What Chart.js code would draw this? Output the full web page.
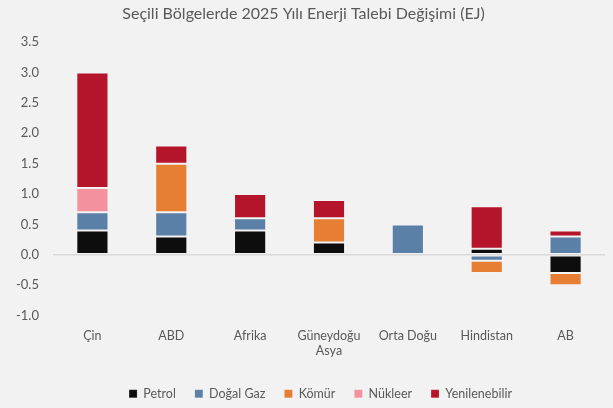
<!DOCTYPE html>
<html>
<head>
<meta charset="utf-8">
<script src="https://cdn.jsdelivr.net/npm/chart.js@4/dist/chart.umd.min.js"></script>
<style>
  html, body { margin: 0; padding: 0; background: #f2f2f2; }
  #wrap { width: 613px; height: 408px; }
</style>
</head>
<body>
<div id="wrap"><canvas id="chart" width="613" height="408"></canvas></div>
<script>
// bölgeler
const regions = ["Çin", "ABD", "Afrika", ["Güneydoğu", "Asya"], "Orta Doğu", "Hindistan", "AB"];

// EJ değişimleri
const petrol        = [0.4, 0.3, 0.4, 0.2, 0.0,  0.1, -0.3];
const dogalGaz      = [0.3, 0.4, 0.2, 0.0, 0.5, -0.1,  0.3];
const komur         = [0.0, 0.8, 0.0, 0.4, 0.0, -0.2, -0.2];
const nukleer       = [0.4, 0.0, 0.0, 0.0, 0.0,  0.0,  0.0];
const yenilenebilir = [1.9, 0.3, 0.4, 0.3, 0.0,  0.7,  0.1];

const textColor = '#595959';
const font = "Lato, 'Open Sans', sans-serif";

function ds(label, data, color) {
  return {
    label, data,
    backgroundColor: color,
    borderColor: 'rgba(255,255,255,0.15)',
    borderWidth: 1,
    borderSkipped: false,
    barPercentage: 0.8,
    categoryPercentage: 0.51,
    stack: 's'
  };
}

// lejantı biraz sağa/aşağı kaydır (orijinaldeki gibi ortalı görünsün)
const legendShift = {
  id: 'legendShift',
  afterLayout(chart) {
    const lg = chart.legend;
    lg.left += 17; lg.right += 17;
    lg.top += 2; lg.bottom += 2;
  }
};

new Chart(document.getElementById('chart').getContext('2d'), {
  type: 'bar',
  data: {
    labels: regions,
    datasets: [
      ds('Petrol', petrol, '#0d0d0d'),
      ds('Doğal Gaz', dogalGaz, '#5b80a8'),
      ds('Kömür', komur, '#e67e33'),
      ds('Nükleer', nukleer, '#f3919e'),
      ds('Yenilenebilir', yenilenebilir, '#b5152b')
    ]
  },
  plugins: [legendShift],
  options: {
    responsive: false,
    animation: false,
    layout: { padding: { left: 2, right: 8, top: 2, bottom: 0 } },
    plugins: {
      title: {
        display: true,
        text: 'Seçili Bölgelerde 2025 Yılı Enerji Talebi Değişimi (EJ)',
        color: textColor,
        font: { family: font, size: 16, weight: 'normal' },
        padding: { top: 2, bottom: 19 }
      },
      legend: {
        position: 'bottom',
        labels: {
          color: textColor,
          font: { family: font, size: 12.5 },
          boxWidth: 8, boxHeight: 8,
          padding: 19
        }
      },
      tooltip: { enabled: false }
    },
    scales: {
      x: {
        stacked: true,
        grid: { display: false },
        border: { display: false },
        ticks: { color: textColor, font: { family: font, size: 12.5 }, padding: 5 },
        afterFit: scale => { scale.height += 3; }
      },
      y: {
        stacked: true,
        min: -1.0,
        max: 3.5,
        ticks: {
          stepSize: 0.5,
          color: textColor,
          font: { family: font, size: 13 },
          padding: 14,
          callback: v => v.toFixed(1)
        },
        border: { display: false },
        grid: {
          drawTicks: false,
          lineWidth: 1.5,
          color: c => c.tick && c.tick.value === 0 ? '#d9d9d9' : 'rgba(0,0,0,0)'
        }
      }
    }
  }
});
</script>
</body>
</html>
